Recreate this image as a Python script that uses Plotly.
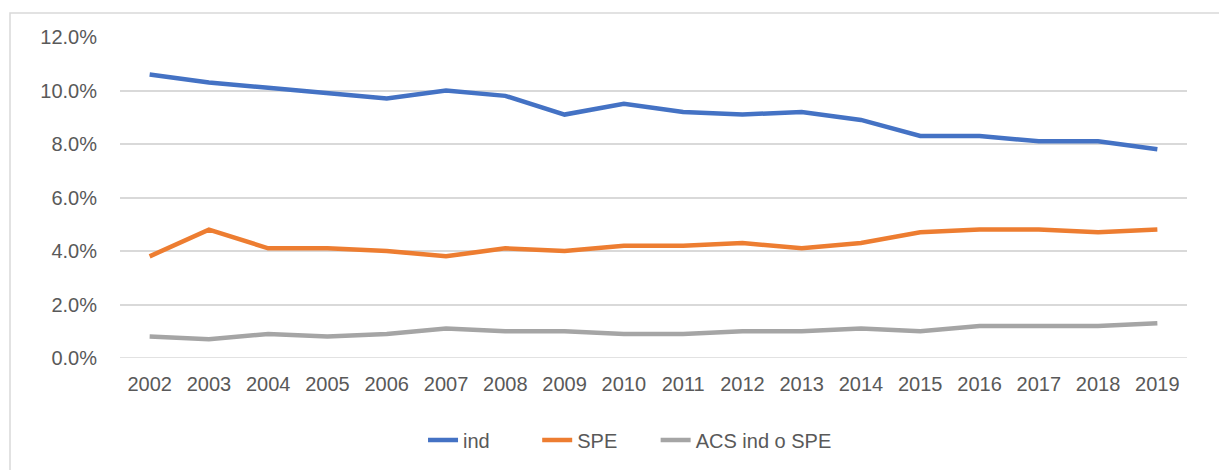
import plotly.graph_objects as go

years = [str(y) for y in range(2002, 2020)]
ind = [10.6, 10.3, 10.1, 9.9, 9.7, 10.0, 9.8, 9.1, 9.5, 9.2, 9.1, 9.2, 8.9, 8.3, 8.3, 8.1, 8.1, 7.8]
spe = [3.8, 4.8, 4.1, 4.1, 4.0, 3.8, 4.1, 4.0, 4.2, 4.2, 4.3, 4.1, 4.3, 4.7, 4.8, 4.8, 4.7, 4.8]
acs = [0.8, 0.7, 0.9, 0.8, 0.9, 1.1, 1.0, 1.0, 0.9, 0.9, 1.0, 1.0, 1.1, 1.0, 1.2, 1.2, 1.2, 1.3]
series_names = ["ind", "SPE", "ACS ind o SPE"]
colors = ["#4472C4", "#ED7D31", "#A5A5A5"]
legend_ids = ["legend", "legend2", "legend3"]
legend_x = [0.284, 0.391, 0.502]

font = dict(family="Liberation Sans, Arial, sans-serif", size=20, color="#595959")

fig = go.Figure()
for name, vals, col, lg in zip(series_names, [ind, spe, acs], colors, legend_ids):
    fig.add_trace(go.Scatter(
        x=years, y=[v / 100 for v in vals], name=name, mode="lines",
        line=dict(color=col, width=4.5, shape="linear"), legend=lg,
    ))

legend_common = dict(orientation="h", xanchor="left", y=-0.195, yanchor="top",
                     font=font, bgcolor="rgba(0,0,0,0)")
fig.update_layout(
    width=1227, height=470,
    margin=dict(l=112, r=48, t=29, b=120, autoexpand=False),
    paper_bgcolor="white", plot_bgcolor="white",
    font=font,
    showlegend=True,
    legend=dict(x=legend_x[0], **legend_common),
    legend2=dict(x=legend_x[1], **legend_common),
    legend3=dict(x=legend_x[2], **legend_common),
    xaxis=dict(type="category", range=[-0.5, 17.5], showgrid=False, zeroline=False,
               showline=False, ticks="", ticklabelstandoff=12, tickfont=font),
    yaxis=dict(range=[0, 0.12], tickvals=[0, 0.02, 0.04, 0.06, 0.08, 0.10, 0.12],
               tickformat=".1%", showgrid=True, gridcolor="#D9D9D9", gridwidth=1.5,
               zeroline=False, showline=False, ticks="", ticklabelstandoff=22,
               tickfont=font),
    shapes=[dict(type="rect", xref="paper", yref="paper",
                 x0=-0.1031, x1=1.2, y0=-0.5, y1=1.0748,
                 line=dict(color="#D9D9D9", width=1.5), layer="below")],
)
fig.add_shape(type="line", xref="paper", yref="y", x0=0, x1=1, y0=0, y1=0,
              line=dict(color="#D9D9D9", width=1.5), layer="below")

fig.write_html("out.html")
